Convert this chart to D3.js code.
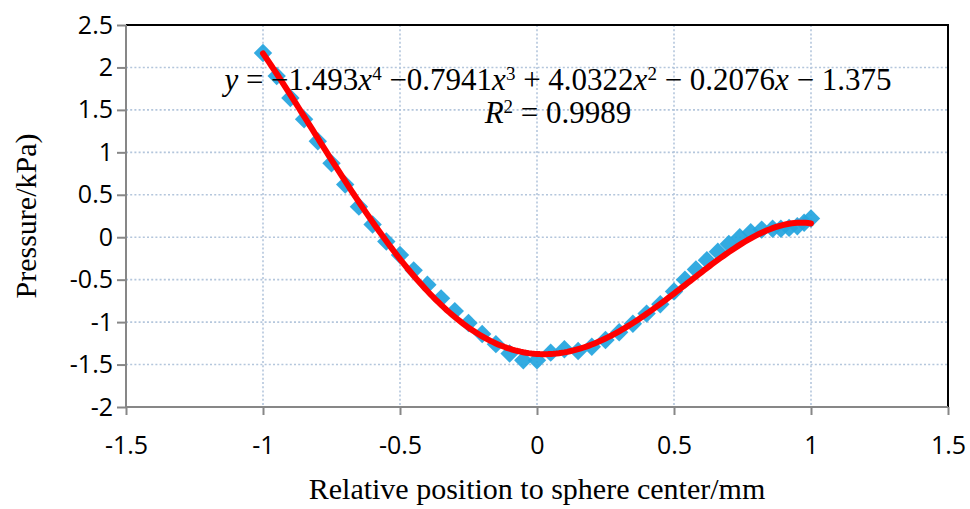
<!DOCTYPE html>
<html>
<head>
<meta charset="utf-8">
<script src="https://cdnjs.cloudflare.com/ajax/libs/d3/7.8.5/d3.min.js"></script>
<style>
  html, body { margin: 0; padding: 0; background: #fff; }
  svg { display: block; }
</style>
</head>
<body>
<div id="chart"></div>
<script>
// measured pressure along the sphere (x in mm, y in kPa)
const posX = [-1.00, -0.95, -0.90, -0.85, -0.80, -0.75, -0.70, -0.65, -0.60, -0.55,
              -0.50, -0.45, -0.40, -0.35, -0.30, -0.25, -0.20, -0.15, -0.10, -0.05,
               0.00,  0.05,  0.10,  0.15,  0.20,  0.25,  0.30,  0.35,  0.40,  0.45,
               0.50,  0.54,  0.58,  0.62,  0.66,  0.70,  0.74,  0.78,  0.82,  0.86,
               0.89,  0.92,  0.95,  0.975, 1.00];
const pressure = [2.17, 1.90, 1.64, 1.39, 1.13, 0.87, 0.62, 0.36, 0.15, -0.05,
                 -0.21, -0.39, -0.56, -0.72, -0.87, -1.01, -1.14, -1.26, -1.37, -1.45,
                 -1.45, -1.36, -1.32, -1.34, -1.29, -1.21, -1.12, -1.02, -0.90, -0.79,
                 -0.64, -0.50, -0.38, -0.27, -0.17, -0.08, 0.00, 0.06, 0.09, 0.10,
                  0.10, 0.11, 0.13, 0.17, 0.22];

// trendline coefficients as printed on the chart (x^4 .. x^0)
const trendCoef = [-1.493, -0.7941, 4.0322, -0.2076, -1.375];
const rSquared = "0.9989";

const xTicks = [-1.5, -1, -0.5, 0, 0.5, 1, 1.5];
const yTicks = [-2, -1.5, -1, -0.5, 0, 0.5, 1, 1.5, 2, 2.5];

const width = 970, height = 509;
const margin = { top: 25, right: 22, bottom: 102, left: 126 };
const plotW = width - margin.left - margin.right;
const plotH = height - margin.top - margin.bottom;

const svg = d3.select("#chart").append("svg")
  .attr("width", width)
  .attr("height", height);

const x = d3.scaleLinear().domain([-1.5, 1.5]).range([0, plotW]);
const y = d3.scaleLinear().domain([-2, 2.5]).range([plotH, 0]);

const g = svg.append("g").attr("transform", `translate(${margin.left},${margin.top})`);

// gridlines
g.append("g")
  .selectAll("line")
  .data(yTicks.filter(d => d > -2 && d < 2.5))
  .join("line")
  .attr("x1", 0).attr("x2", plotW)
  .attr("y1", d => y(d)).attr("y2", d => y(d))
  .attr("stroke", "#b4c6dc")
  .attr("stroke-width", 1.6)
  .attr("stroke-dasharray", "2,2.2");

g.append("g")
  .selectAll("line")
  .data(xTicks.filter(d => d > -1.5 && d < 1.5))
  .join("line")
  .attr("x1", d => x(d)).attr("x2", d => x(d))
  .attr("y1", 0).attr("y2", plotH)
  .attr("stroke", "#b4c6dc")
  .attr("stroke-width", 1.6)
  .attr("stroke-dasharray", "2,2.2");

// top / right frame
g.append("path")
  .attr("d", `M0,0H${plotW}V${plotH}`)
  .attr("fill", "none")
  .attr("stroke", "#000")
  .attr("stroke-width", 2);

// axes
const xAxis = g.append("g")
  .attr("transform", `translate(0,${plotH})`)
  .call(d3.axisBottom(x).tickValues(xTicks).tickSize(8).tickPadding(21).tickFormat(d => String(d)));

const yAxis = g.append("g")
  .call(d3.axisLeft(y).tickValues(yTicks).tickSize(9).tickPadding(4).tickFormat(d => String(d)));

[xAxis, yAxis].forEach(a => {
  a.select(".domain").attr("stroke", "#878787").attr("stroke-width", 2);
  a.selectAll(".tick line").attr("stroke", "#878787").attr("stroke-width", 2);
  a.selectAll(".tick text")
    .attr("fill", "#000")
    .style("font-family", "'Open Sans', sans-serif")
    .style("font-size", "25px");
});
yAxis.select(".domain").attr("d", `M0,${plotH}V0`);
xAxis.select(".domain").attr("d", `M0,0H${plotW}`);

// data markers
g.append("g")
  .selectAll("rect")
  .data(posX.map((v, i) => [v, pressure[i]]))
  .join("rect")
  .attr("x", -6.5).attr("y", -6.5)
  .attr("width", 13).attr("height", 13)
  .attr("transform", d => `translate(${x(d[0])},${y(d[1])}) rotate(45)`)
  .attr("fill", "#22a4de")
  .attr("fill-opacity", 0.92);

// polynomial trendline
const poly = t => trendCoef.reduce((acc, c) => acc * t + c, 0);
const trendPts = d3.range(-1, 1.0001, 0.01).map(t => [t, poly(t)]);
g.append("path")
  .datum(trendPts)
  .attr("fill", "none")
  .attr("stroke", "#ff0000")
  .attr("stroke-width", 6)
  .attr("stroke-linecap", "round")
  .attr("d", d3.line().x(d => x(d[0])).y(d => y(d[1])).curve(d3.curveLinear));

// equation text
const eq = svg.append("text")
  .attr("x", 558).attr("y", 90)
  .attr("text-anchor", "middle")
  .style("font-family", "'Liberation Serif', 'Times New Roman', serif")
  .style("font-size", "31px")
  .attr("fill", "#000");

const sup = (s) => eq.append("tspan").attr("dy", -10).style("font-size", "19px").text(s);
const down = () => eq.append("tspan").attr("dy", 10);

eq.append("tspan").style("font-style", "italic").text("y");
eq.append("tspan").text(" = \u2212" + Math.abs(trendCoef[0]));
eq.append("tspan").style("font-style", "italic").text("x");
sup("4");
down().text(" \u2212" + Math.abs(trendCoef[1]));
eq.append("tspan").style("font-style", "italic").text("x");
sup("3");
down().text(" + " + trendCoef[2]);
eq.append("tspan").style("font-style", "italic").text("x");
sup("2");
down().text(" \u2212 " + Math.abs(trendCoef[3]));
eq.append("tspan").style("font-style", "italic").text("x");
eq.append("tspan").text(" \u2212 " + Math.abs(trendCoef[4]));

const r2 = svg.append("text")
  .attr("x", 558).attr("y", 123)
  .attr("text-anchor", "middle")
  .style("font-family", "'Liberation Serif', 'Times New Roman', serif")
  .style("font-size", "31px")
  .attr("fill", "#000");
r2.append("tspan").style("font-style", "italic").text("R");
r2.append("tspan").attr("dy", -10).style("font-size", "19px").text("2");
r2.append("tspan").attr("dy", 10).text(" = " + rSquared);

// axis titles
svg.append("text")
  .attr("x", margin.left + plotW / 2)
  .attr("y", 499)
  .attr("text-anchor", "middle")
  .style("font-family", "'Liberation Serif', 'Times New Roman', serif")
  .style("font-size", "30px")
  .text("Relative position to sphere center/mm");

svg.append("text")
  .attr("transform", `translate(36,${margin.top + plotH / 2}) rotate(-90)`)
  .attr("text-anchor", "middle")
  .style("font-family", "'Liberation Serif', 'Times New Roman', serif")
  .style("font-size", "30px")
  .text("Pressure/kPa)");
</script>
</body>
</html>
